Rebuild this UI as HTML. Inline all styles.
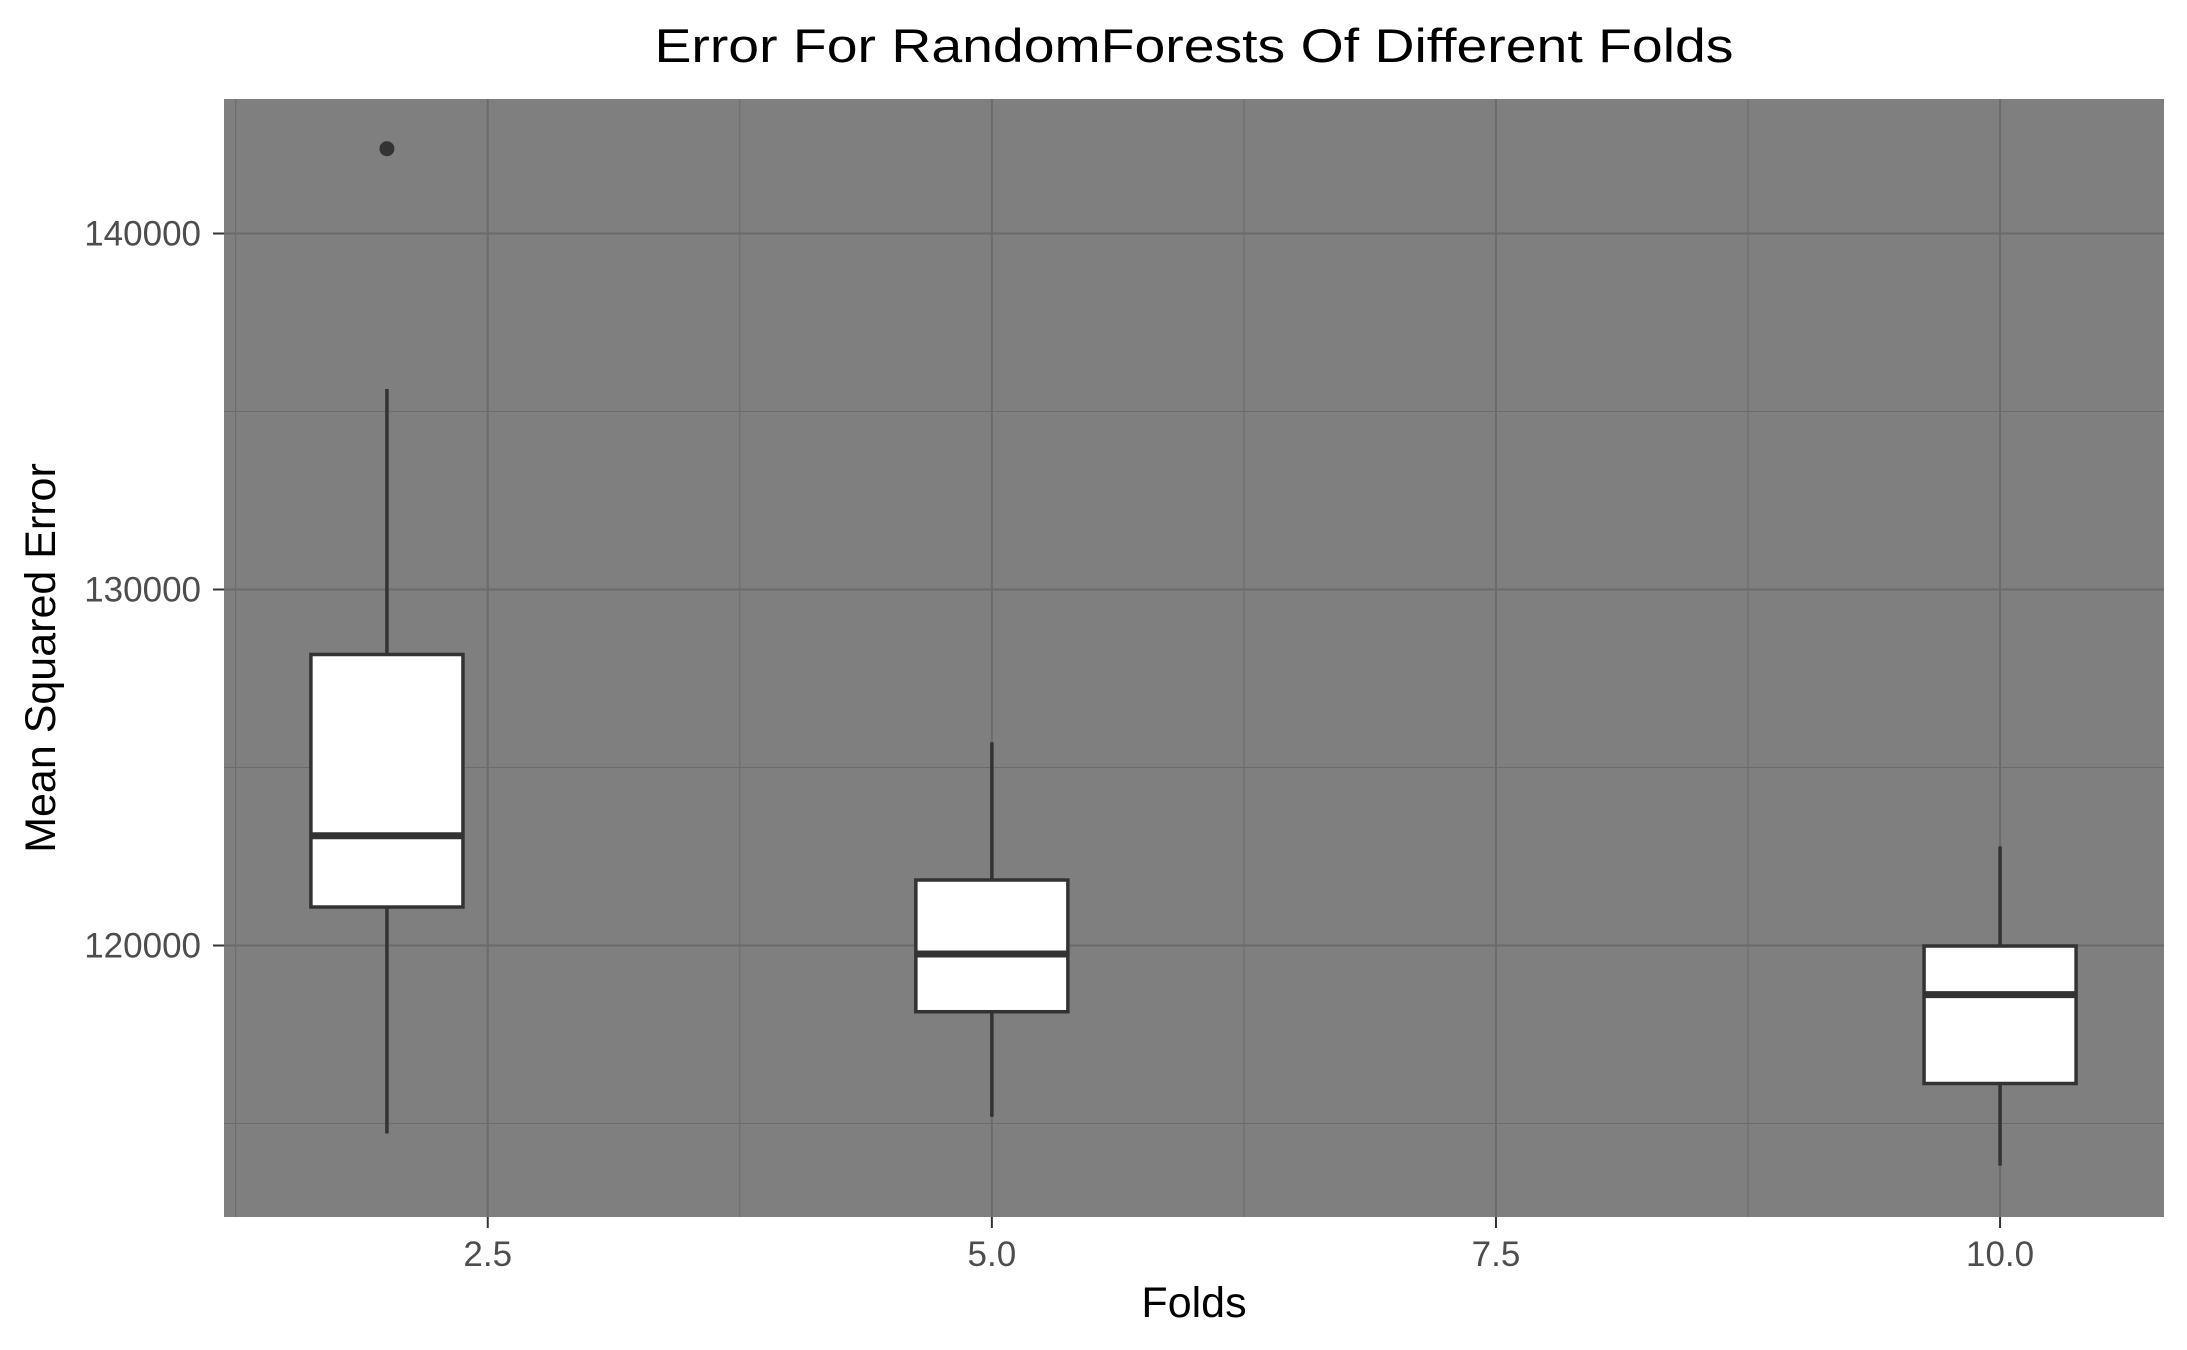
<!DOCTYPE html>
<html><head><meta charset="utf-8"><style>
html,body{margin:0;padding:0;background:#fff;}
svg{display:block;font-family:"Liberation Sans",Arial,sans-serif;}
</style></head><body>
<svg id="chart" width="2187" height="1350" viewBox="0 0 2187 1350" xmlns="http://www.w3.org/2000/svg"></svg>
<script>
const categories = [2, 5, 10];
const whiskerLow = [114719, 115191, 113817];
const q1Values = [121081, 118140, 116124];
const medianValues = [123084, 119761, 118621];
const q3Values = [128174, 121840, 119986];
const whiskerHigh = [135632, 125708, 122784];
const outlierX = [2];
const outlierY = [142382];
const yTicks = [120000, 130000, 140000];
const yMinor = [115000, 125000, 135000];
const xTicks = [2.5, 5.0, 7.5, 10.0];
const xTickLabels = ["2.5", "5.0", "7.5", "10.0"];
const xMinor = [1.25, 3.75, 6.25, 8.75];

const P = {l:224, t:99, r:2164, b:1217};
const xDom = [1.192, 10.813], yDom = [112374, 143778];
const xs = v => P.l + (v - xDom[0]) / (xDom[1] - xDom[0]) * (P.r - P.l);
const ys = v => P.b - (v - yDom[0]) / (yDom[1] - yDom[0]) * (P.b - P.t);
const NS = "http://www.w3.org/2000/svg";
const svg = document.getElementById('chart');
function mk(tag, attrs, parent) {
  const e = document.createElementNS(NS, tag);
  for (const k in attrs) e.setAttribute(k, attrs[k]);
  (parent || svg).appendChild(e);
  return e;
}
const panel = mk('rect', {x:P.l, y:P.t, width:P.r-P.l, height:P.b-P.t, fill:'#7f7f7f'});



const grid = mk('g', {});


yMinor.forEach(v => { const l = mk('line', {x1:P.l, x2:P.r, y1:ys(v), y2:ys(v), stroke:'#6b6b6b', 'stroke-width':1}, grid);
    });
xMinor.forEach(v => { const l = mk('line', {x1:xs(v), x2:xs(v), y1:P.t, y2:P.b, stroke:'#6b6b6b', 'stroke-width':1}, grid);
    });
yTicks.forEach(v => { const l = mk('line', {x1:P.l, x2:P.r, y1:ys(v), y2:ys(v), stroke:'#6b6b6b', 'stroke-width':2}, grid);
    });
xTicks.forEach(v => { const l = mk('line', {x1:xs(v), x2:xs(v), y1:P.t, y2:P.b, stroke:'#6b6b6b', 'stroke-width':2}, grid);
    });

yTicks.forEach(v => {
  const t = mk('line', {x1:P.l-11, x2:P.l, y1:ys(v), y2:ys(v), stroke:'#333', 'stroke-width':2});
   
  const tx = mk('text', {x:P.l-23, y:ys(v)+12, 'text-anchor':'end', 'font-size':35, fill:'#4d4d4d'});
  tx.textContent = String(v);
   
});
xTicks.forEach((v, i) => {
  const t = mk('line', {x1:xs(v), x2:xs(v), y1:P.b, y2:P.b+11, stroke:'#333', 'stroke-width':2});
   
  const tx = mk('text', {x:xs(v), y:1266, 'text-anchor':'middle', 'font-size':35, fill:'#4d4d4d'});
  tx.textContent = xTickLabels[i];
   
});

const halfW = 0.377;
categories.forEach((c, i) => {
  const g = mk('g', {});
  
  
  const cx = xs(c), x0 = xs(c - halfW), x1 = xs(c + halfW);
  mk('line', {x1:cx, x2:cx, y1:ys(whiskerHigh[i]), y2:ys(q3Values[i]), stroke:'#333', 'stroke-width':3.5}, g);
  mk('line', {x1:cx, x2:cx, y1:ys(q1Values[i]), y2:ys(whiskerLow[i]), stroke:'#333', 'stroke-width':3.5}, g);
  mk('rect', {x:x0, y:ys(q3Values[i]), width:x1-x0, height:ys(q1Values[i])-ys(q3Values[i]), fill:'#fff', stroke:'#333', 'stroke-width':3.5}, g);
  mk('line', {x1:x0, x2:x1, y1:ys(medianValues[i]), y2:ys(medianValues[i]), stroke:'#333', 'stroke-width':7}, g);
});
outlierX.forEach((c, i) => {
  const o = mk('circle', {cx:xs(c), cy:ys(outlierY[i]), r:7.5, fill:'#333'});
   
});

const title = mk('text', {x:1194, y:62, 'text-anchor':'middle', 'font-size':47, fill:'#000', textLength:1079, lengthAdjust:'spacingAndGlyphs'});
title.textContent = 'Error For RandomForests Of Different Folds';
 
const xt = mk('text', {x:1194, y:1317, 'text-anchor':'middle', 'font-size':43, fill:'#000'});
xt.textContent = 'Folds';
 
const yt = mk('text', {x:0, y:0, 'text-anchor':'middle', 'font-size':43, fill:'#000', transform:'translate(55,658) rotate(-90)'});
yt.textContent = 'Mean Squared Error';
 
</script>
</body></html>
